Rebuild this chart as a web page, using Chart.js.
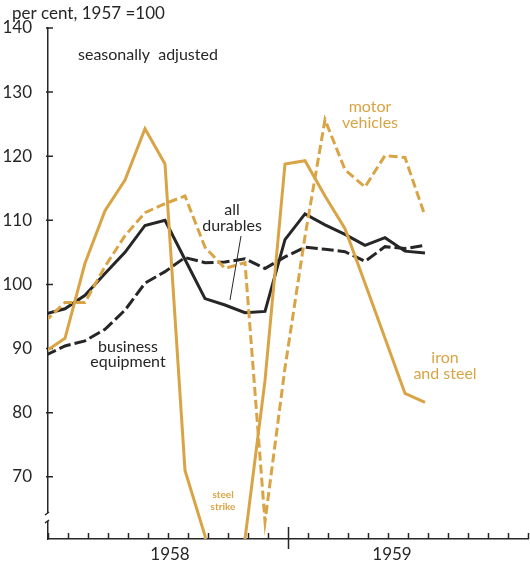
<!DOCTYPE html>
<html>
<head>
<meta charset="utf-8">
<script src="https://cdn.jsdelivr.net/npm/chart.js@4.4.0/dist/chart.umd.min.js"></script>
<style>
    body { margin: 0; background: #fff; }
    canvas { display: block; }
</style>
</head>
<body>
<canvas id="js--chart" width="530" height="562"></canvas>
<script>
// production indexes, per cent, 1957 = 100, seasonally adjusted (monthly)
const months = [0, 1, 2, 3, 4, 5, 6, 7, 8, 9, 10, 11, 12, 13, 14, 15, 16, 17, 18, 19];
const ironSteel = [89.5, 91.6, 103.3, 111.5, 116.3, 124.3, 118.8, 71.0, 60.8, 35, 60.3, 85, 118.8, 119.3, 113.8, 108.7, 100.2, 91.6, 83.0, 81.6];
const motorVehicles = [94.2, 97.2, 97.2, 102.8, 107.6, 111.2, 112.6, 113.8, 105.8, 102.5, 103.4, 63.0, 87, 107.5, 125.7, 117.9, 115.2, 120.1, 119.8, 110.7];
const allDurables = [95.4, 96.2, 98.3, 101.7, 105.0, 109.2, 110.0, 103.9, 97.8, 96.8, 95.6, 95.8, 107.0, 111.0, 109.3, 107.8, 106.1, 107.3, 105.2, 104.9];
const businessEquipment = [88.9, 90.4, 91.2, 93.0, 96.0, 100.2, 102.0, 104.2, 103.4, 103.5, 104.0, 102.5, 104.3, 105.8, 105.5, 105.1, 103.6, 105.9, 105.6, 106.1];

const yTicks = [70, 80, 90, 100, 110, 120, 130, 140];
const years = ['1958', '1959'];

const gold = '#d9a445';
const ink = '#262626';
const font = 'Lato, "DejaVu Sans", sans-serif';

function pts(values) {
    return values.map((v, i) => ({ x: months[i], y: v }));
}

// axis ticks, axis break and the text notes on the chart
const notes = {
    id: 'notes',
    beforeDatasetsDraw(chart) {
        const { ctx, chartArea: a, scales: { x, y } } = chart;
        ctx.save();
        ctx.strokeStyle = ink;
        ctx.lineWidth = 1.5;
        ctx.beginPath();
        for (let k = 0; k <= 24; k++) {
            const px = Math.round(x.getPixelForValue(x.min + k)) + 0.5;
            if (k === 12) {
                ctx.moveTo(px, a.bottom - 12);
                ctx.lineTo(px, a.bottom + 10);
            } else {
                ctx.moveTo(px, a.bottom - 6);
                ctx.lineTo(px, a.bottom);
            }
        }
        yTicks.forEach(v => {
            const py = y.getPixelForValue(v);
            ctx.moveTo(a.left - 2, py);
            ctx.lineTo(a.left + 5, py);
        });
        ctx.stroke();

        // break in the value axis
        ctx.fillStyle = '#fff';
        ctx.fillRect(a.left - 3, a.bottom - 26, 7, 8);
        ctx.beginPath();
        ctx.moveTo(a.left - 3, a.bottom - 24);
        ctx.lineTo(a.left + 1, a.bottom - 27);
        ctx.moveTo(a.left - 3, a.bottom - 16);
        ctx.lineTo(a.left + 1, a.bottom - 19);
        ctx.stroke();
        ctx.restore();
    },
    afterDatasetsDraw(chart) {
        const { ctx } = chart;
        ctx.save();
        ctx.textBaseline = 'middle';
        ctx.font = '17px ' + font;
        ctx.fillStyle = ink;
        ctx.textAlign = 'left';
        ctx.fillText('per cent, 1957 =100', 12, 14);
        ctx.font = '16px ' + font;
        ctx.fillText('seasonally  adjusted', 78, 55);

        ctx.textAlign = 'center';
        ctx.fillText('all', 232, 210);
        ctx.fillText('durables', 232, 226);
        ctx.fillText('business', 128, 347);
        ctx.fillText('equipment', 128, 362);

        ctx.fillStyle = gold;
        ctx.fillText('motor', 370, 107);
        ctx.fillText('vehicles', 370, 123);
        ctx.fillText('iron', 445, 358);
        ctx.fillText('and steel', 445, 374);

        ctx.font = 'bold 10px ' + font;
        ctx.fillText('steel', 223, 495);
        ctx.fillText('strike', 223, 507);

        // pointer from the label to the all durables line
        ctx.strokeStyle = ink;
        ctx.lineWidth = 1;
        ctx.beginPath();
        ctx.moveTo(241, 236);
        ctx.lineTo(230, 300);
        ctx.stroke();
        ctx.restore();
    }
};

const ctx = document.getElementById('js--chart');

new Chart(ctx, {
    type: 'line',
    data: {
        datasets: [
            { label: 'iron and steel', data: pts(ironSteel), borderColor: gold, borderWidth: 3 },
            { label: 'motor vehicles', data: pts(motorVehicles), borderColor: gold, borderWidth: 3, borderDash: [9, 4] },
            { label: 'all durables', data: pts(allDurables), borderColor: ink, borderWidth: 3 },
            { label: 'business equipment', data: pts(businessEquipment), borderColor: ink, borderWidth: 3, borderDash: [12, 4] }
        ]
    },
    options: {
        responsive: false,
        animation: false,
        layout: { padding: { top: 28, right: 2, left: 0, bottom: 0 } },
        elements: {
            point: { radius: 0 },
            line: { tension: 0, fill: false, borderJoinStyle: 'miter', borderCapStyle: 'butt' }
        },
        datasets: { line: { clip: 0 } },
        plugins: {
            legend: { display: false },
            tooltip: { enabled: false }
        },
        scales: {
            x: {
                type: 'linear',
                min: 0.15,
                max: 24.15,
                grid: { display: false },
                border: { display: true, color: ink, width: 1.5 },
                afterBuildTicks: s => { s.ticks = [{ value: 6.25 }, { value: 17.35 }]; },
                afterFit: s => { s.height = 23; },
                ticks: {
                    autoSkip: false,
                    maxRotation: 0,
                    padding: -3,
                    color: ink,
                    font: { family: font, size: 17 },
                    callback: (v, i) => years[i]
                }
            },
            y: {
                min: 60.3,
                max: 140,
                grid: { display: false },
                border: { display: true, color: ink, width: 1.5 },
                afterBuildTicks: s => { s.ticks = yTicks.map(v => ({ value: v })); },
                afterFit: s => { s.width = 48; },
                ticks: {
                    padding: 8,
                    color: ink,
                    font: { family: font, size: 17 }
                }
            }
        }
    },
    plugins: [notes]
});
</script>
</body>
</html>
